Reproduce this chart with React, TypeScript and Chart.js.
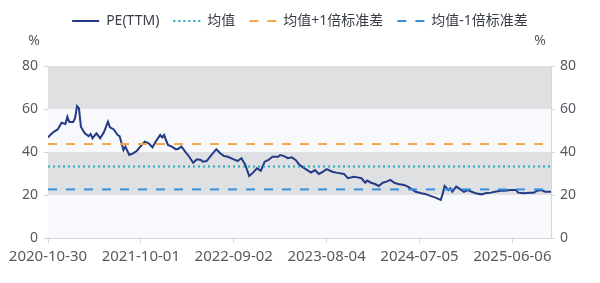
import React, { useEffect, useRef } from "react";
import { Chart, registerables } from "chart.js";

Chart.register(...registerables);

// Week index since 2020-10-30 (weekly data) and PE(TTM) values
const peWeeks = [
  0, 1, 3, 5, 7, 9, 10, 11, 13, 14, 15, 16, 17, 19, 21, 22, 23, 25, 27, 29,
  31, 32, 34, 36, 37, 39, 40, 42, 44, 46, 48, 50, 52, 54, 56, 58, 59, 60, 62, 64,
  66, 67, 69, 71, 73, 75, 77, 79, 80, 82, 84, 87, 89, 91, 93, 96, 98, 100, 102, 104,
  106, 108, 110, 112, 114, 116, 119, 120, 122, 124, 126, 128, 130, 134, 136, 138, 140, 142, 144, 147,
  149, 153, 155, 158, 160, 162, 164, 165, 167, 169, 171, 173, 175, 177, 179, 181, 184, 186, 188, 190,
  193, 195, 198, 200, 203, 204, 205, 207, 208, 209, 211, 213, 215, 217, 219, 221, 224, 226, 229, 231,
  234, 236, 239, 242, 243, 246, 249, 251, 253, 255, 257, 259, 260,
];
const peValues = [
  46.8, 47.8, 49.4, 50.5, 53.6, 53.0, 56.4, 54.0, 54.0, 55.7, 61.4, 60.3, 51.8, 48.7, 47.4, 48.4, 46.4, 48.7, 46.4, 49.4,
  54.1, 51.5, 50.5, 47.9, 47.4, 40.9, 42.5, 38.6, 39.4, 40.6, 42.8, 44.8, 44.0, 42.2, 45.3, 47.9, 46.8, 47.9, 43.3, 42.5,
  41.3, 41.3, 42.5, 40.1, 37.8, 35.0, 36.6, 36.3, 35.5, 35.8, 38.1, 41.3, 39.4, 38.1, 37.8, 36.6, 35.8, 37.1, 34.0, 28.8,
  30.4, 32.4, 31.3, 35.5, 36.3, 37.8, 37.8, 38.6, 38.1, 37.1, 37.5, 36.3, 34.0, 31.6, 30.4, 31.6, 29.8, 30.8, 32.0, 30.8,
  30.4, 29.8, 27.8, 28.5, 28.2, 27.8, 25.7, 26.7, 25.7, 25.1, 24.2, 25.7, 26.2, 27.0, 25.7, 25.1, 24.7, 23.9, 22.7, 21.5,
  20.8, 20.5, 19.5, 18.9, 17.7, 20.5, 24.2, 22.3, 23.1, 21.5, 23.9, 22.7, 21.5, 22.3, 21.5, 20.8, 20.3, 20.8, 21.1, 21.5,
  22.0, 22.0, 22.3, 22.3, 21.1, 20.8, 21.1, 21.1, 22.0, 22.3, 21.5, 21.5, 21.5,
];

const dateTicks = ["2020-10-30", "2021-10-01", "2022-09-02", "2023-08-04", "2024-07-05", "2025-06-06"];
const tickStepWeeks = 48;
const lastWeek = 260;

const meanValue = 33.2;
const upperValue = 43.7;
const lowerValue = 22.6;

const seriesNames = ["PE(TTM)", "均值", "均值+1倍标准差", "均值-1倍标准差"];
const yTicks = [0, 20, 40, 60, 80];
const bandEdges = [0, 20, 40, 60, 80];

const FONT = '"Noto Sans", "Noto Sans CJK SC", sans-serif';
const TICK_COLOR = "#555a60";
const AXIS_COLOR = "#d4d6da";
const BAND_GREY = "#dfe0e2";
const BAND_LIGHT = "#f8f9fc";

const bandPlugin = {
  id: "bands",
  beforeDatasetsDraw(chart: any) {
    const { ctx, chartArea, scales } = chart;
    const y = scales.y;
    ctx.save();
    for (let i = 0; i < bandEdges.length - 1; i++) {
      const top = y.getPixelForValue(bandEdges[i + 1]);
      const bottom = y.getPixelForValue(bandEdges[i]);
      ctx.fillStyle = i % 2 === 0 ? BAND_LIGHT : BAND_GREY;
      ctx.fillRect(chartArea.left, top, chartArea.right - chartArea.left, bottom - top);
    }
    ctx.restore();
  },
};

const unitPlugin = {
  id: "units",
  afterDraw(chart: any) {
    const { ctx, chartArea } = chart;
    ctx.save();
    ctx.fillStyle = TICK_COLOR;
    ctx.font = `14px ${FONT}`;
    ctx.textAlign = "center";
    ctx.textBaseline = "middle";
    ctx.fillText("%", chartArea.left - 14, chartArea.top - 25);
    ctx.fillText("%", chartArea.right - 11, chartArea.top - 25);
    ctx.restore();
  },
};

export default function App() {
  const canvasRef = useRef<HTMLCanvasElement | null>(null);

  useEffect(() => {
    document.body.style.margin = "0";
    const canvas = canvasRef.current;
    if (!canvas) return;
    Chart.defaults.font.family = FONT;

    const pePoints = peWeeks.map((w, i) => ({ x: w, y: peValues[i] }));
    const flat = (v: number) => [
      { x: 0, y: v },
      { x: lastWeek, y: v },
    ];

    const chart = new Chart(canvas, {
      type: "line",
      data: {
        datasets: [
          {
            label: seriesNames[0],
            data: pePoints,
            borderColor: "#243a86",
            borderWidth: 2,
            pointRadius: 0,
            order: 2,
          },
          {
            label: seriesNames[1],
            data: flat(meanValue),
            borderColor: "#22a9bd",
            borderWidth: 2,
            borderDash: [2, 3],
            pointRadius: 0,
            order: 1,
          },
          {
            label: seriesNames[2],
            data: flat(upperValue),
            borderColor: "#f2a74c",
            borderWidth: 2,
            borderDash: [9, 9],
            pointRadius: 0,
            order: 1,
          },
          {
            label: seriesNames[3],
            data: flat(lowerValue),
            borderColor: "#3a8fdc",
            borderWidth: 2,
            borderDash: [9, 9],
            pointRadius: 0,
            order: 1,
          },
        ],
      },
      options: {
        responsive: false,
        maintainAspectRatio: false,
        animation: false,
        devicePixelRatio: 1,
        layout: { padding: 0 },
        plugins: {
          tooltip: { enabled: false },
          legend: {
            display: true,
            position: "top",
            labels: {
              usePointStyle: true,
              pointStyleWidth: 27,
              boxHeight: 14,
              padding: 14,
              color: "#3a3f47",
              font: { size: 14, family: FONT },
              sort: (a: any, b: any) => a.datasetIndex - b.datasetIndex,
              generateLabels: (ch: any) => {
                const items = (Chart.defaults.plugins.legend.labels as any).generateLabels(ch);
                return items.map((it: any) => {
                  const ds: any = ch.data.datasets[it.datasetIndex];
                  return {
                    ...it,
                    pointStyle: "line",
                    strokeStyle: ds.borderColor,
                    fillStyle: ds.borderColor,
                    lineWidth: ds.borderWidth,
                    lineDash: ds.borderDash || [],
                  };
                });
              },
            },
          },
          subtitle: {
            display: true,
            text: "",
            weight: 100,
            font: { size: 10, lineHeight: 1 },
            padding: { top: 18, bottom: 0 },
          } as any,
        },
        scales: {
          x: {
            type: "linear",
            min: 0,
            max: lastWeek,
            grid: {
              display: true,
              drawOnChartArea: false,
              tickLength: 5,
              color: AXIS_COLOR,
            },
            border: { color: AXIS_COLOR },
            ticks: {
              stepSize: tickStepWeeks,
              includeBounds: false,
              autoSkip: false,
              maxRotation: 0,
              padding: 5,
              color: TICK_COLOR,
              font: { size: 15 },
              callback: (v: any) =>
                Number(v) % tickStepWeeks === 0 ? dateTicks[Number(v) / tickStepWeeks] ?? "" : "",
            },
            afterFit: (s: any) => {
              s.height = 45;
            },
          },
          y: {
            position: "left",
            min: 0,
            max: 80,
            grid: { display: true, drawOnChartArea: false, tickLength: 4, color: AXIS_COLOR },
            border: { color: AXIS_COLOR },
            afterBuildTicks: (s: any) => {
              s.ticks = yTicks.map((v) => ({ value: v }));
            },
            ticks: { color: TICK_COLOR, font: { size: 14 }, padding: 6 },
            afterFit: (s: any) => {
              s.width = 48;
            },
          },
          y2: {
            position: "right",
            min: 0,
            max: 80,
            grid: { display: true, drawOnChartArea: false, tickLength: 4, color: AXIS_COLOR },
            border: { color: AXIS_COLOR },
            afterBuildTicks: (s: any) => {
              s.ticks = yTicks.map((v) => ({ value: v }));
            },
            ticks: { color: TICK_COLOR, font: { size: 14 }, padding: 5 },
            afterFit: (s: any) => {
              s.width = 49;
            },
          },
        },
      },
      plugins: [bandPlugin, unitPlugin],
    });

    return () => chart.destroy();
  }, []);

  return (
    <div style={{ width: 600, height: 283, background: "#ffffff" }}>
      <canvas ref={canvasRef} width={600} height={283} />
    </div>
  );
}
